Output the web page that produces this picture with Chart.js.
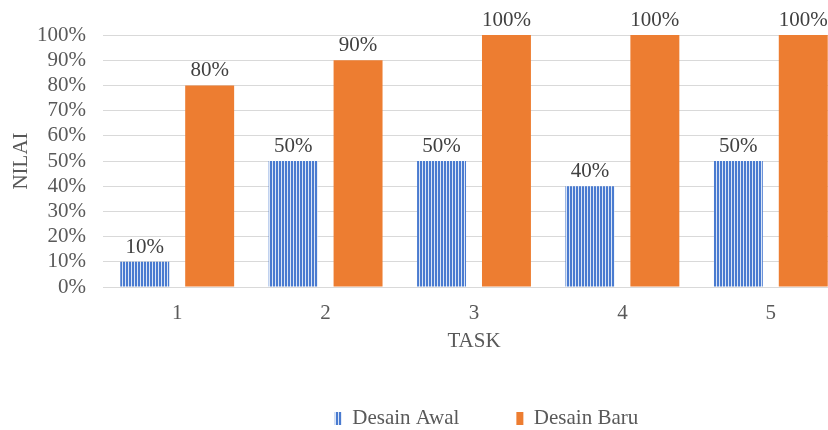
<!DOCTYPE html>
<html>
<head>
<meta charset="utf-8">
<script src="https://cdn.jsdelivr.net/npm/chart.js@4/dist/chart.umd.min.js"></script>
<style>
  html, body { margin: 0; padding: 0; background: #ffffff; overflow: hidden; }
  #wrap { width: 973px; height: 430px; }
</style>
</head>
<body>
<div id="wrap"><canvas id="c" width="973" height="430"></canvas></div>
<script>
const tasks = ['1', '2', '3', '4', '5'];
const desainAwal = [10, 50, 50, 40, 50];
const desainBaru = [80, 90, 100, 100, 100];
const seriesNames = ['Desain Awal', 'Desain Baru'];

const FONT = '"Liberation Serif", "Times New Roman", serif';
const ORANGE = '#ed7d31';

Chart.defaults.font.family = FONT;
Chart.defaults.font.size = 21;
Chart.defaults.color = '#595959';

// vertical stripe fill for the first series
function stripePattern() {
  const p = document.createElement('canvas');
  p.width = 3; p.height = 6;
  const g = p.getContext('2d');
  g.fillStyle = '#dce6f6';
  g.fillRect(0, 0, 3, 6);
  g.fillStyle = '#4a7bd0';
  g.fillRect(0, 0, 2, 6);
  return g.createPattern(p, 'repeat');
}
const STRIPES = stripePattern();

// value labels above each bar
const barLabels = {
  id: 'barLabels',
  afterDatasetsDraw(chart) {
    const ctx = chart.ctx;
    ctx.save();
    ctx.font = '21px ' + FONT;
    ctx.fillStyle = '#404040';
    ctx.textAlign = 'center';
    ctx.textBaseline = 'alphabetic';
    chart.data.datasets.forEach((ds, i) => {
      chart.getDatasetMeta(i).data.forEach((bar, j) => {
        ctx.fillText(ds.data[j] + '%', bar.x, bar.y - 9);
      });
    });
    ctx.restore();
  }
};

new Chart(document.getElementById('c'), {
  type: 'bar',
  data: {
    labels: tasks,
    datasets: [
      { label: seriesNames[0], data: desainAwal, backgroundColor: STRIPES, borderWidth: 0 },
      { label: seriesNames[1], data: desainBaru, backgroundColor: ORANGE, borderWidth: 0 }
    ]
  },
  options: {
    responsive: false,
    animation: false,
    devicePixelRatio: 1,
    categoryPercentage: 0.875,
    barPercentage: 0.754,
    layout: { padding: { top: 35, left: 0, right: 0, bottom: -9 } },
    plugins: {
      tooltip: { enabled: false },
      legend: {
        position: 'bottom',
        labels: {
          font: { family: FONT, size: 21 },
          color: '#595959',
          boxWidth: 7,
          boxHeight: 13,
          padding: 57
        }
      }
    },
    scales: {
      x: {
        grid: { display: false },
        border: { display: false },
        ticks: { padding: 6 },
        title: { display: true, text: 'TASK', padding: { top: 0, bottom: -3 } },
        afterFit(s) { s.height = 64; }
      },
      y: {
        min: 0, max: 100,
        grid: { color: '#d9d9d9', lineWidth: 1, drawTicks: false },
        border: { display: false },
        ticks: { stepSize: 10, autoSkip: false, padding: 17, callback: v => v + '%' },
        title: { display: true, text: 'NILAI', padding: { top: 9, bottom: 0 } },
        afterFit(s) { s.width = 103; }
      },
      yr: {
        position: 'right',
        grid: { display: false },
        border: { display: false },
        ticks: { display: false },
        afterFit(s) { s.width = 128; }
      }
    }
  },
  plugins: [barLabels]
});
</script>
</body>
</html>
